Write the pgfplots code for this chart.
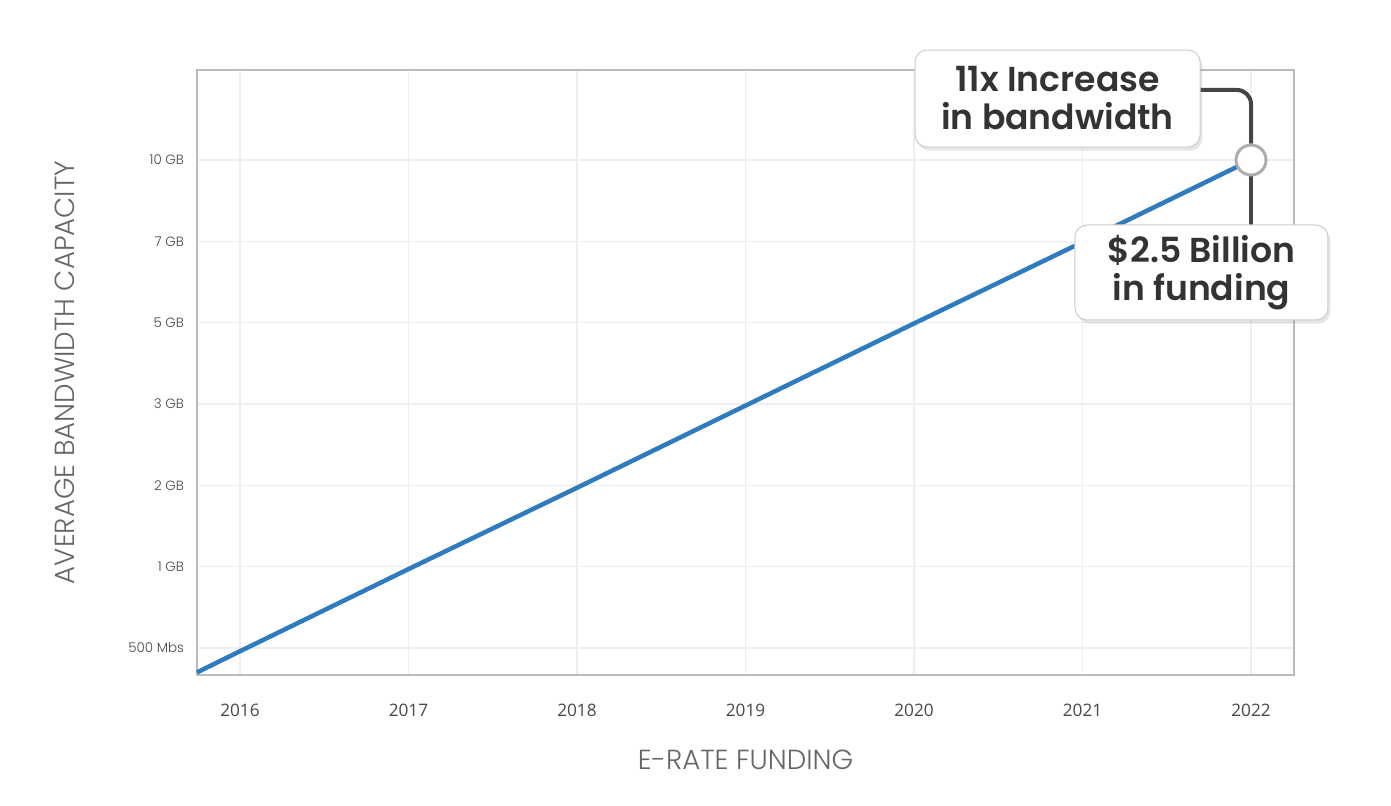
\documentclass[border=0pt]{standalone}
\usepackage{pgfplots}
\pgfplotsset{compat=1.18}
\usepackage{fontspec}
\usetikzlibrary{shadows}
\setmainfont{Poppins}
\newfontfamily\poplight{Poppins Light}
\newfontfamily\popsemi{Poppins SemiBold}
\newfontfamily\opensans{Open Sans}
\definecolor{lineblue}{HTML}{2E7BBF}
\definecolor{gridc}{HTML}{EEEEEE}
\definecolor{framec}{HTML}{BBBBBB}
\definecolor{txt}{HTML}{333333}
\definecolor{conn}{HTML}{454545}
\begin{document}
\begin{tikzpicture}
\path[use as bounding box] (-98.5pt,-65.5pt) rectangle (597pt,337.5pt);
\begin{axis}[
  scale only axis,
  width=548.5pt, height=302.5pt,
  xmin=2015.745, xmax=2022.255,
  ymin=-0.332, ymax=7.107,
  xtick={2016,2017,2018,2019,2020,2021,2022},
  xticklabels={2016,2017,2018,2019,2020,2021,2022},
  ytick={0,1,2,3,4,5,6},
  yticklabels={500 Mbs,1 GB,2 GB,3 GB,5 GB,7 GB,10 GB},
  major tick length=0pt,
  grid=major,
  major grid style={gridc, line width=0.6pt},
  axis line style={framec, line width=0.7pt},
  xticklabel style={font=\opensans\fontsize{8.6}{10}\selectfont, color=black!72, anchor=center, yshift=-17.5pt},
  yticklabel style={font=\poplight\fontsize{6.7}{8}\selectfont, color=black!72, anchor=east, xshift=-3pt},
  clip=false,
  xlabel={E-RATE FUNDING},
  ylabel={AVERAGE BANDWIDTH CAPACITY},
  xlabel style={font=\poplight\fontsize{13.8}{15}\selectfont, color=black!60, at={(axis description cs:0.5,0)}, anchor=center, yshift=-42.5pt},
  ylabel style={font=\poplight\fontsize{13.8}{15}\selectfont, color=black!60, at={(axis description cs:0,0.5)}, anchor=center, yshift=66pt},
]
\addplot[lineblue, line width=2.25pt] coordinates {
  (2015.745,-0.30) (2016,-0.04) (2017,0.97) (2018,1.97) (2019,2.98) (2020,3.99) (2021,4.99) (2022,6)
};
\draw[conn, line width=2pt, rounded corners=7pt] (axis cs:2021.697,6.861) -| (axis cs:2022,6.2);
\draw[conn, line width=2pt] (axis cs:2022,5.8) -- (axis cs:2022,5.2);
\addplot[only marks, mark=*, mark size=7.5pt, mark options={fill=white, draw=black!32, line width=1.5pt}] coordinates {(2022,6)};
\node[draw=black!20, line width=0.5pt, fill=white, rounded corners=6pt,
      drop shadow={opacity=0.2, shadow xshift=1.2pt, shadow yshift=-1.8pt},
      minimum width=142.5pt, minimum height=48.5pt, align=center,
      font=\popsemi\fontsize{17.3}{19}\selectfont, text=txt, inner sep=0pt]
  at (axis cs:2020.852,6.756) {11x Increase\\in bandwidth};
\node[draw=black!20, line width=0.5pt, fill=white, rounded corners=6pt,
      drop shadow={opacity=0.2, shadow xshift=1.2pt, shadow yshift=-1.8pt},
      minimum width=126.5pt, minimum height=47.5pt, align=center,
      font=\popsemi\fontsize{17.3}{19}\selectfont, text=txt, inner sep=0pt]
  at (axis cs:2021.706,4.617) {\$2.5 Billion\\in funding};
\end{axis}
\end{tikzpicture}
\end{document}
